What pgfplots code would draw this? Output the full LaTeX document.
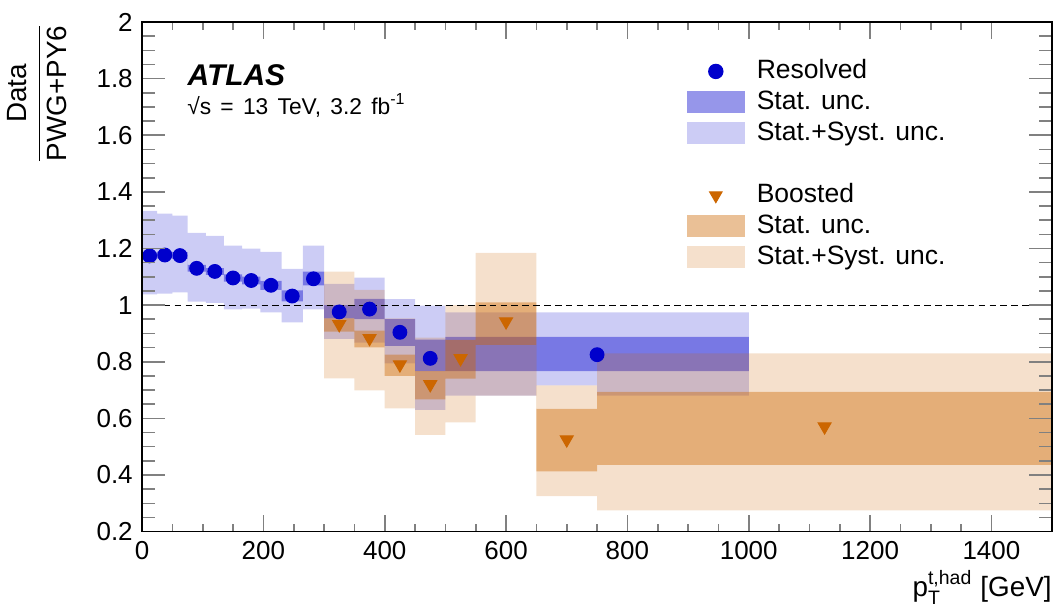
\documentclass[border=0pt]{standalone}
\usepackage{amsmath}
\usepackage{fontspec}
\setmainfont{Liberation Sans}
\usepackage{pgfplots}
\pgfplotsset{compat=1.18}
\usepackage{pgfplotstable}
\usepgfplotslibrary{fillbetween}

\definecolor{rblue}{RGB}{0,0,204}
\definecolor{borange}{RGB}{204,102,0}

% resolved: left bin edge, stat+syst band, stat band (last row closes the last bin)
\pgfplotstableread{
x    syslo syshi statlo stathi
0    1.038 1.333 1.162 1.186
25   1.041 1.323 1.165 1.189
50   1.045 1.316 1.163 1.187
75   1.012 1.255 1.118 1.142
105  1.008 1.245 1.107 1.131
135  0.985 1.210 1.083 1.109
165  0.988 1.200 1.073 1.101
195  0.974 1.188 1.054 1.086
230  0.939 1.128 1.013 1.052
265  0.985 1.210 1.070 1.118
300  0.881 1.075 0.953 1.000
350  0.868 1.097 0.951 1.022
400  0.794 1.021 0.856 0.951
450  0.630 0.998 0.767 0.878
500  0.680 0.974 0.767 0.888
650  0.717 0.974 0.767 0.888
750  0.680 0.974 0.767 0.888
1000 0.680 0.974 0.767 0.888
}\resband

\pgfplotstableread{
x     y
12.5  1.174
37.5  1.177
62.5  1.175
90    1.130
120   1.119
150   1.096
180   1.087
212.5 1.070
247.5 1.032
282.5 1.093
325   0.976
375   0.986
425   0.904
475   0.812
750   0.825
}\respts

% boosted
\pgfplotstableread{
x    syslo syshi statlo stathi
300  0.741 1.118 0.906 0.953
350  0.699 1.054 0.851 0.910
400  0.635 0.953 0.750 0.825
450  0.542 0.885 0.667 0.767
500  0.586 1.000 0.740 0.877
550  0.680 1.185 0.860 1.010
650  0.325 0.717 0.413 0.634
750  0.275 0.830 0.436 0.694
1500 0.275 0.830 0.436 0.694
}\booband

\pgfplotstableread{
x    y
325  0.932
375  0.883
425  0.790
475  0.720
525  0.812
600  0.942
700  0.525
1125 0.571
}\boopts

\pgfplotsset{
  boxleg/.style={legend image code/.code={
    \fill[draw=none, #1] (0pt,-4.15pt) rectangle (21.9pt,4.15pt);
    \path[draw=none] (0pt,0pt) -- (26.4pt,0pt);}},
  markleg/.style 2 args={legend image code/.code={
    \path[draw=none] plot[only marks, mark=#1, mark size=2.7pt,
      mark options={draw=#2, fill=#2, rotate=\ifx#1*0\else180\fi}] coordinates {(10.95pt,0pt)};
    \path[draw=none] (0pt,0pt) -- (26.4pt,0pt);}},
}

\begin{document}
\begin{tikzpicture}
\begin{axis}[
    name=main,
    scale only axis,
    width=343.4pt, height=192.3pt,
    xmin=0, xmax=1500, ymin=0.2, ymax=2,
    xtick={0,200,400,600,800,1000,1200,1400},
    minor x tick num=3,
    ytick={0.2,0.4,0.6,0.8,1,1.2,1.4,1.6,1.8,2},
    minor y tick num=3,
    major tick length=6.4pt, minor tick length=3pt,
    y tick style={draw=none},
    tick style={line width=0.6pt},
    axis line style={line width=0.6pt},
    tick label style={font=\fontsize{9.8}{11}\selectfont},
    /pgf/number format/assume math mode=true,
    /pgf/number format/1000 sep={},
    scaled x ticks=false,
    legend style={draw=none, fill=none, at={(rel axis cs:0.598,0.929)},
      anchor=north west, inner sep=0pt, row sep=2.1pt,
      font=\fontsize{10}{12}\selectfont,
      nodes={text height=7.4pt, text depth=2.2pt, inner sep=0pt}},
    legend cell align=left,
]
% resolved bands
\addplot[const plot, draw=none, name path=rsl, forget plot] table[x=x, y=syslo]{\resband};
\addplot[const plot, draw=none, name path=rsh, forget plot] table[x=x, y=syshi]{\resband};
\addplot[const plot, draw=none, name path=rtl, forget plot] table[x=x, y=statlo]{\resband};
\addplot[const plot, draw=none, name path=rth, forget plot] table[x=x, y=stathi]{\resband};
\addplot[fill=rblue, fill opacity=0.2, draw=none, forget plot] fill between[of=rsh and rsl];
\addplot[fill=rblue, fill opacity=0.41, draw=none, forget plot] fill between[of=rth and rtl];
\addplot[only marks, mark=*, mark size=2.6pt, rblue, forget plot] table[x=x, y=y]{\respts};
% boosted bands
\addplot[const plot, draw=none, name path=bsl, forget plot] table[x=x, y=syslo]{\booband};
\addplot[const plot, draw=none, name path=bsh, forget plot] table[x=x, y=syshi]{\booband};
\addplot[const plot, draw=none, name path=btl, forget plot] table[x=x, y=statlo]{\booband};
\addplot[const plot, draw=none, name path=bth, forget plot] table[x=x, y=stathi]{\booband};
\addplot[fill=borange, fill opacity=0.2, draw=none, forget plot] fill between[of=bsh and bsl];
\addplot[fill=borange, fill opacity=0.41, draw=none, forget plot] fill between[of=bth and btl];
\addplot[only marks, mark=triangle*, mark size=2.8pt, mark options={rotate=180}, borange, forget plot] table[x=x, y=y]{\boopts};
% reference line
\addplot[black, line width=0.4pt, dash pattern=on 2.5pt off 1.6pt, forget plot] coordinates {(0,1) (1500,1)};

% legend
\addlegendimage{draw=none, markleg={*}{rblue}}
\addlegendentry{Resolved}
\addlegendimage{draw=none, boxleg={rblue, fill opacity=0.41}}
\addlegendentry{Stat. unc.}
\addlegendimage{draw=none, boxleg={rblue, fill opacity=0.2}}
\addlegendentry{Stat.+Syst. unc.}
\addlegendimage{empty legend}
\addlegendentry{}
\addlegendimage{draw=none, markleg={triangle*}{borange}}
\addlegendentry{Boosted}
\addlegendimage{draw=none, boxleg={borange, fill opacity=0.41}}
\addlegendentry{Stat. unc.}
\addlegendimage{draw=none, boxleg={borange, fill opacity=0.2}}
\addlegendentry{Stat.+Syst. unc.}

\node[anchor=base west, inner sep=0pt, font=\fontsize{11.3}{13}\selectfont\bfseries\itshape] at (rel axis cs:0.0495,0.876) {ATLAS};
\node[anchor=base west, inner sep=0pt, font=\fontsize{8.6}{10}\selectfont] at (rel axis cs:0.0491,0.8177) {\spaceskip=3.5pt √s = 13 TeV, 3.2 fb\textsuperscript{-1}};
\end{axis}
% y ticks with their own length
\begin{axis}[
    scale only axis,
    width=343.4pt, height=192.3pt,
    xmin=0, xmax=1500, ymin=0.2, ymax=2,
    xtick=\empty,
    ytick={0.2,0.4,0.6,0.8,1,1.2,1.4,1.6,1.8,2},
    minor y tick num=3,
    yticklabel style={text opacity=0},
    major tick length=8.7pt, minor tick length=4.9pt,
    tick style={line width=0.6pt},
    axis line style={line width=0.6pt},
]
\end{axis}
\node[anchor=base east, inner sep=0pt, font=\fontsize{10.5}{12}\selectfont] at ([yshift=-24.5pt]main.south east) {$\text{p}_{\text{T}}^{\text{t,had}}$ [GeV]};
\node[anchor=east, rotate=90, inner sep=0pt, font=\fontsize{10.5}{12}\selectfont] at ([xshift=-39.6pt]main.north west) {$\displaystyle\frac{\text{Data}}{\text{PWG+PY6}}$};
\pgfresetboundingbox
\path[use as bounding box] ([shift={(-53.6pt,-30.7pt)}]main.south west) rectangle ++(399.6pt,231.3pt);
\end{tikzpicture}
\end{document}
